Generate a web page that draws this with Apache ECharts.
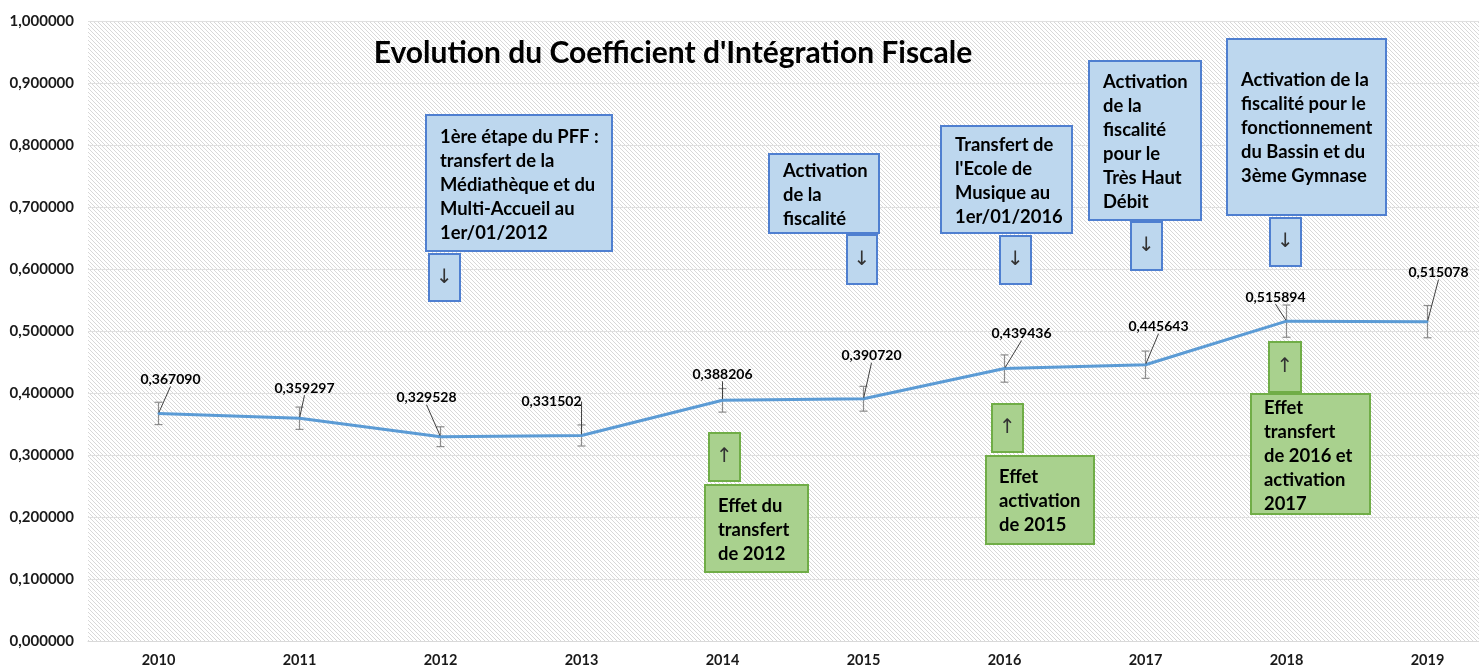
<!DOCTYPE html>
<html>
<head>
<meta charset="utf-8">
<script src="https://cdn.jsdelivr.net/npm/echarts@6/dist/echarts.min.js"></script>
<style>
html,body{margin:0;padding:0;background:#fff;overflow:hidden;}
#chart{width:1479px;height:669px;}
</style>
</head>
<body>
<div id="chart"></div>
<script>
const categories = ['2010','2011','2012','2013','2014','2015','2016','2017','2018','2019'];
const cifValues = [0.367090, 0.359297, 0.329528, 0.331502, 0.388206, 0.390720, 0.439436, 0.445643, 0.515894, 0.515078];
const errorAmounts = [0.018, 0.018, 0.016, 0.017, 0.019, 0.020, 0.022, 0.022, 0.026, 0.026];
const yMin = 0, yMax = 1, yStep = 0.1;
const titleText = "Evolution du Coefficient d'Intégration Fiscale";

const blueNotes = [
  {text: '1ère étape du PFF :\ntransfert de la\nMédiathèque et du\nMulti-Accueil au\n1er/01/2012'},
  {text: 'Activation\nde la\nfiscalité'},
  {text: "Transfert de\nl'Ecole de\nMusique au\n1er/01/2016"},
  {text: 'Activation\nde la\nfiscalité\npour le\nTrès Haut\nDébit'},
  {text: 'Activation de la\nfiscalité pour le\nfonctionnement\ndu Bassin et du\n3ème Gymnase'}
];
const greenNotes = [
  {text: 'Effet du\ntransfert\nde 2012'},
  {text: 'Effet\nactivation\nde 2015'},
  {text: 'Effet\ntransfert\nde 2016 et\nactivation\n2017'}
];

// layout (pixels) for decorations
const blueLayout = [
  {box:[426,115,186,136], txt:[440,125], arrow:[429,254,31,47]},
  {box:[769,154,110,79],  txt:[783,159], arrow:[847,235,30,49]},
  {box:[941,126,131,107], txt:[955,133], arrow:[1000,236,31,48]},
  {box:[1089,61,112,159], txt:[1103,70], arrow:[1131,222,31,48]},
  {box:[1227,39,159,176], txt:[1241,68], arrow:[1270,218,31,48]}
];
const greenLayout = [
  {box:[705,485,103,87],  txt:[718,494], arrow:[709,433,31,48]},
  {box:[986,456,108,88],  txt:[999,465], arrow:[992,404,31,48]},
  {box:[1251,394,119,120],txt:[1264,396], arrow:[1269,342,32,50]}
];
const labelOffsets = [[12,-34],[5,-30],[-14,-39],[-30,-34],[0,-26],[8,-43],[17,-35],[13,-38],[-11,-24],[11,-49]];

function fmt(v){ return v.toFixed(6).replace('.', ','); }

// hatch pattern
const tile = document.createElement('canvas');
tile.width = 4; tile.height = 4;
const tctx = tile.getContext('2d');
tctx.fillStyle = '#ffffff'; tctx.fillRect(0,0,4,4);
tctx.fillStyle = '#d8d8d8';
for (let i = 0; i < 4; i++) tctx.fillRect(i, i, 1, 1);

const FONT = 'Lato, "Open Sans", sans-serif';

function makeNote(n, lay, fill, stroke, arrowChar){
  const [bx,by,bw,bh] = lay.box;
  const [ax,ay,aw,ah] = lay.arrow;
  return [
    {type:'rect', shape:{x:bx,y:by,width:bw,height:bh}, style:{fill:fill, stroke:stroke, lineWidth:2}, z:10},
    {type:'text', x:lay.txt[0], y:lay.txt[1], style:{text:n.text, font:'bold 18.4px ' + FONT, lineHeight:24, fill:'#000', textVerticalAlign:'top'}, z:11},
    {type:'rect', shape:{x:ax,y:ay,width:aw,height:ah}, style:{fill:fill, stroke:stroke, lineWidth:2}, z:10},
    {type:'text', x:ax+aw/2, y:ay+ah/2, style:{text: arrowChar, font:'20px "DejaVu Sans", sans-serif', fill:'#333', textAlign:'center', textVerticalAlign:'middle'}, z:11}
  ];
}

const graphics = [];
blueNotes.forEach((n,i)=> graphics.push(...makeNote(n, blueLayout[i], '#bdd7ee', '#4f7fd0', '↓')));
greenNotes.forEach((n,i)=> graphics.push(...makeNote(n, greenLayout[i], '#a9d18e', '#70ad47', '↑')));

const chart = echarts.init(document.getElementById('chart'), null, {renderer:'canvas'});
chart.setOption({
  animation:false,
  backgroundColor:'#ffffff',
  title:{text:titleText, left:668, top:33, textAlign:'center',
    textStyle:{fontFamily:FONT, fontWeight:'bold', fontSize:30, color:'#000'}},
  grid:{left:88, top:21, width:1410, height:620, show:true, borderWidth:0,
    containLabel:false, outerBoundsMode:'none',
    backgroundColor:{image:tile, repeat:'repeat'}},
  xAxis:{type:'category', data:categories, boundaryGap:true,
    axisLine:{show:true, lineStyle:{color:'#d9d9d9', width:1}},
    axisTick:{show:false},
    axisLabel:{fontFamily:FONT, fontWeight:'bold', fontSize:14.5, color:'#1a1a1a', margin:12}},
  yAxis:{type:'value', min:yMin, max:yMax, interval:yStep,
    axisLine:{show:false}, axisTick:{show:false},
    splitLine:{lineStyle:{color:'#e0e0e0', width:1}},
    axisLabel:{formatter:fmt, fontFamily:FONT, fontWeight:'bold', fontSize:15, color:'#1a1a1a', margin:14}},
  series:[
    {
      type:'custom', name:'err',
      data: cifValues.map((v,i)=>[i, v - errorAmounts[i], v + errorAmounts[i]]),
      renderItem:function(params, api){
        const lo = api.coord([api.value(0), api.value(1)]);
        const hi = api.coord([api.value(0), api.value(2)]);
        const c = 4;
        const st = {stroke:'#8c8c8c', lineWidth:1.2};
        return {type:'group', children:[
          {type:'line', shape:{x1:lo[0],y1:lo[1],x2:hi[0],y2:hi[1]}, style:st},
          {type:'line', shape:{x1:lo[0]-c,y1:lo[1],x2:lo[0]+c,y2:lo[1]}, style:st},
          {type:'line', shape:{x1:hi[0]-c,y1:hi[1],x2:hi[0]+c,y2:hi[1]}, style:st}
        ]};
      },
      z:2
    },
    {
      type:'line', name:'CIF', data:cifValues,
      symbol:'circle', symbolSize:2, showSymbol:true,
      lineStyle:{color:'#5b9bd5', width:3},
      itemStyle:{color:'#5b9bd5'},
      label:{show:true, position:'inside', formatter:(p)=>fmt(p.value),
        fontFamily:FONT, fontWeight:'bold', fontSize:14, color:'#000'},
      labelLine:{show:true, lineStyle:{color:'#404040', width:1}},
      labelLayout:function(p){ const o = labelOffsets[p.dataIndex]; return {dx:o[0], dy:o[1]}; },
      z:3
    }
  ],
  graphic: graphics
});
</script>
</body>
</html>
